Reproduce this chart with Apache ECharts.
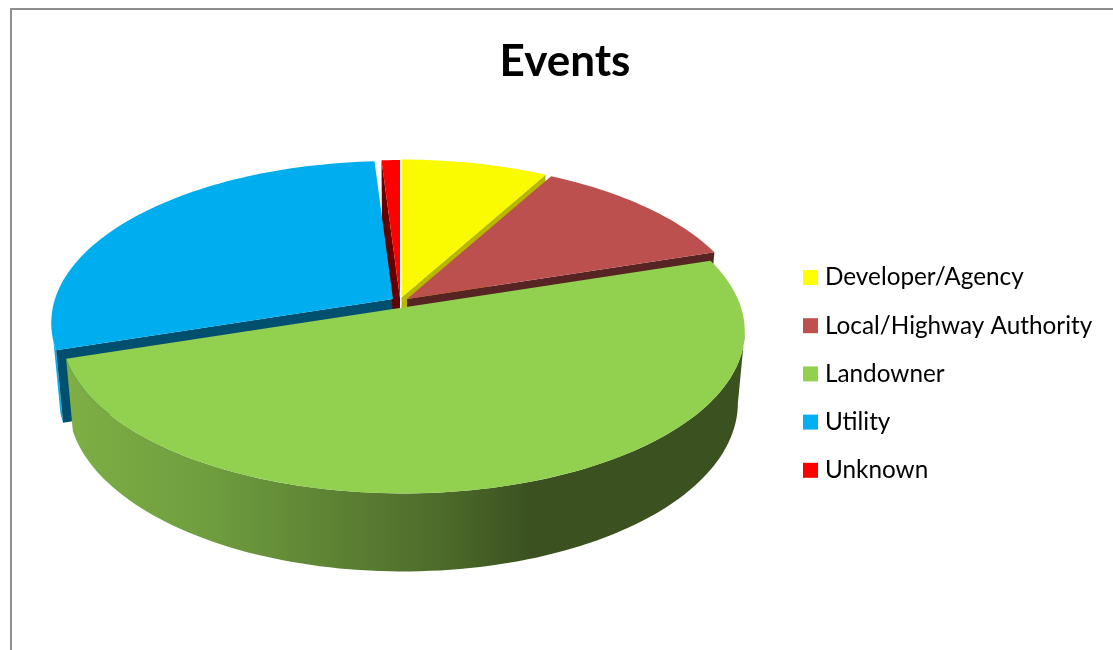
<!DOCTYPE html>
<html>
<head>
<meta charset="utf-8">
<style>html,body{margin:0;padding:0;background:#fff;overflow:hidden}#c{width:1113px;height:650px}</style>
<script src="https://cdn.jsdelivr.net/npm/echarts@6/dist/echarts.min.js"></script>
</head>
<body>
<div id="c"></div>
<script>
var categories = ['Developer/Agency', 'Local/Highway Authority', 'Landowner', 'Utility', 'Unknown'];
var values = [8, 12, 50, 29, 1];
var chartTitle = 'Events';

var topColors = ['#FAFA00', '#BC504E', '#92D050', '#00AEEF', '#FF0000'];
var legendColors = ['#FFFF00', '#C0504D', '#92D050', '#00B0F0', '#FF0000'];
var cutColors = ['#B8B800', '#562423', '#3B5220', '#004F6E', '#640000'];
var sliceCentres = [[401.5, 297.5], [407, 299], [403, 307.5], [393, 299], [400, 298]];
var cutAtStart = [false, false, false, true, true];

var RX = 338, RY = 158.4, PERSP = 0.148, DEPTH = 70, DEPTH_V = 8, SHRINK = 0.98, AXIS_X = 403;
var SILHOUETTE = Math.acos(-PERSP) * 180 / Math.PI;
var total = values.reduce(function (a, b) { return a + b; }, 0);

function startAngle(i) {
  var s = 0;
  for (var k = 0; k < i; k++) s += values[k];
  return s / total * 360;
}
function topPoint(i, deg) {
  var t = deg * Math.PI / 180, u = Math.sin(t), v = Math.cos(t), w = 1 + PERSP * v, c = sliceCentres[i];
  return { x: c[0] + RX * u / w, y: c[1] - RY * v / w, v: v };
}
function lowPoint(p) {
  return [AXIS_X + (p.x - AXIS_X) * SHRINK, p.y + DEPTH - DEPTH_V * p.v];
}
function lowCentre(i) {
  var c = sliceCentres[i];
  return [AXIS_X + (c[0] - AXIS_X) * SHRINK, c[1] + DEPTH];
}
function arc(i, a, b) {
  var n = Math.max(2, Math.ceil(Math.abs(b - a) / 1.5)), out = [];
  for (var k = 0; k <= n; k++) out.push(topPoint(i, a + (b - a) * k / n));
  return out;
}
function sideWall(pts) {
  return pts.map(function (p) { return [p.x, p.y]; }).concat(pts.map(lowPoint).reverse());
}

var sideGradient = new echarts.graphic.LinearGradient(70, 0, 745, 0, [
  { offset: 0, color: '#7EAE44' },
  { offset: 0.2, color: '#6F9E3F' },
  { offset: 0.55, color: '#4D6B2A' },
  { offset: 0.68, color: '#3B5220' },
  { offset: 1, color: '#3B5220' }
], true);

function makeRender(i) {
  return function (params, api) {
    var span = api.value(0) / total * 360, a = startAngle(i), b = a + span;
    var c = sliceCentres[i], kids = [];
    var rim = arc(i, a, b);
    var topPts = [c].concat(rim.map(function (p) { return [p.x, p.y]; }));
    var topZ = i === 2 ? 40 : 20;

    if (i !== 2) {
      var edge = topPoint(i, cutAtStart[i] ? a : b);
      kids.push({
        type: 'polygon', z2: 10 + i,
        shape: { points: [c, [edge.x, edge.y], lowPoint(edge), lowCentre(i)] },
        style: { fill: cutColors[i] }
      });
    } else {
      // The front side starts where the rim turns away from the viewer
      kids.push({
        type: 'polygon', z2: 30,
        shape: { points: sideWall(arc(i, Math.max(a, SILHOUETTE), b)) },
        style: { fill: sideGradient }
      });
    }
    // The sliver of the blue slice's outer side that shows at its front corner
    if (i === 3) {
      kids.push({
        type: 'polygon', z2: 5,
        shape: { points: sideWall(arc(i, a, a + 3)) },
        style: { fill: topColors[i] }
      });
    }
    kids.push({ type: 'polygon', z2: topZ, shape: { points: topPts }, style: { fill: topColors[i] } });
    return { type: 'group', children: kids };
  };
}

var series = categories.map(function (name, i) {
  return {
    type: 'custom',
    name: name,
    coordinateSystem: 'none',
    silent: true,
    animation: false,
    itemStyle: { color: legendColors[i] },
    data: [[values[i]]],
    renderItem: makeRender(i)
  };
});

var chart = echarts.init(document.getElementById('c'), null, { renderer: 'canvas' });
chart.setOption({
  animation: false,
  backgroundColor: '#fff',
  title: {
    text: chartTitle, left: 560, top: 35, textAlign: 'center',
    textStyle: { fontFamily: 'Lato', fontSize: 44, fontWeight: 'bold', color: '#000' }
  },
  legend: {
    orient: 'vertical', left: 798, top: 260, icon: 'rect',
    itemWidth: 15, itemHeight: 15, itemGap: 23.2,
    data: categories,
    textStyle: { fontFamily: 'Lato', fontSize: 24.3, color: '#000', padding: [0, 0, 0, 2], lineHeight: 25 }
  },
  graphic: [{
    type: 'rect', silent: true, z: -1,
    shape: { x: 11, y: 9, width: 1300, height: 900 },
    style: { fill: 'none', stroke: '#8E8E8E', lineWidth: 2 }
  }],
  series: series
});
</script>
</body>
</html>
